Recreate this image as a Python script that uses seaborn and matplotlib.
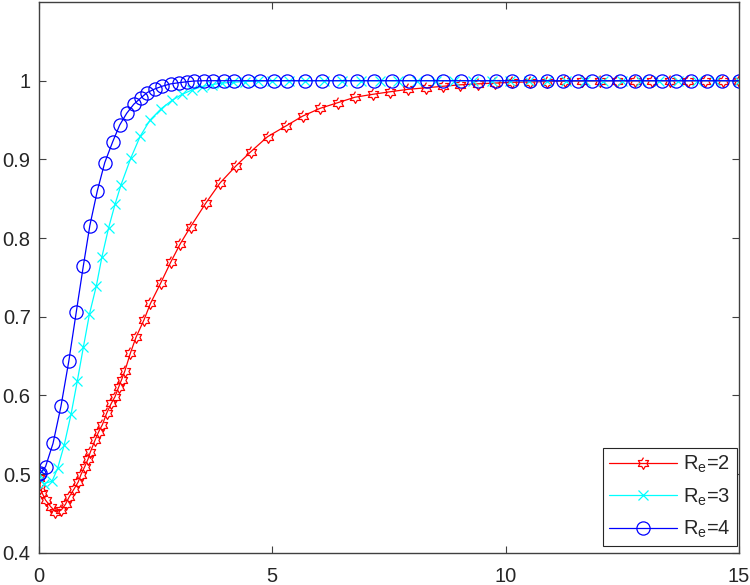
#!/usr/bin/env python3

import numpy as np
import seaborn as sns
import matplotlib
matplotlib.use("Agg")
import matplotlib.pyplot as plt
from matplotlib.ticker import FuncFormatter

# ---- data ----
t_re2 = [0, 0.03, 0.07, 0.14, 0.25, 0.35, 0.48, 0.57, 0.65, 0.75,
         0.84, 0.90, 0.98, 1.05, 1.10, 1.20, 1.28, 1.36, 1.45, 1.55,
         1.63, 1.71, 1.77, 1.84, 1.96, 2.08, 2.25, 2.39, 2.61, 2.82,
         3.03, 3.25, 3.57, 3.88, 4.22, 4.54, 4.90, 5.29, 5.65, 6.03,
         6.40, 6.77, 7.15, 7.53, 7.90, 8.29, 8.67, 9.03, 9.40, 9.77,
         10.15, 10.53, 10.90, 11.28, 11.65, 12.03, 12.40, 12.78, 13.15, 13.53,
         13.91, 14.28, 14.66, 15.0]
y_re2 = [0.495, 0.482, 0.4757, 0.467, 0.4587, 0.4524, 0.4545, 0.462, 0.4714, 0.481,
         0.490, 0.4995, 0.5095, 0.519, 0.528, 0.543, 0.554, 0.563, 0.5774, 0.590,
         0.5985, 0.611, 0.620, 0.631, 0.654, 0.674, 0.696, 0.717, 0.743, 0.769,
         0.793, 0.8145, 0.844, 0.870, 0.8916, 0.9098, 0.9289, 0.9424, 0.955, 0.965,
         0.972, 0.979, 0.9827, 0.986, 0.989, 0.991, 0.993, 0.9948, 0.996, 0.997,
         0.998, 0.9985, 0.999, 0.9993, 0.9995, 0.9997, 0.9998, 0.9998, 0.9999, 0.9999,
         1.0, 1.0, 1.0, 1.0]

t_re3 = [0, 0.10, 0.28, 0.40, 0.54, 0.69, 0.82, 0.95, 1.08, 1.23,
         1.35, 1.49, 1.63, 1.76, 1.97, 2.17, 2.38, 2.62, 2.85, 3.06,
         3.27, 3.49, 3.70, 3.92, 4.15, 4.41, 4.69, 5.0, 5.35, 5.7,
         6.1, 6.5, 6.9, 7.3, 7.7, 8.1, 8.5, 8.9, 9.3, 9.7,
         10.1, 10.5, 10.9, 11.3, 11.7, 12.1, 12.5, 12.9, 13.3, 13.7,
         14.1, 14.5, 15.0]
y_re3 = [0.500, 0.488, 0.491, 0.5075, 0.537, 0.577, 0.618, 0.661, 0.703, 0.7395,
         0.7765, 0.8125, 0.843, 0.868, 0.902, 0.9295, 0.950, 0.9645, 0.975, 0.9825,
         0.988, 0.9925, 0.995, 0.997, 0.998, 0.999, 0.9995, 1.0, 1.0, 1.0,
         1.0, 1.0, 1.0, 1.0, 1.0, 1.0, 1.0, 1.0, 1.0, 1.0,
         1.0, 1.0, 1.0, 1.0, 1.0, 1.0, 1.0, 1.0, 1.0, 1.0,
         1.0, 1.0, 1.0]

t_re4 = [0, 0.03, 0.14, 0.30, 0.47, 0.64, 0.80, 0.95, 1.09, 1.25,
         1.41, 1.58, 1.73, 1.88, 2.03, 2.18, 2.32, 2.48, 2.64, 2.82,
         3.00, 3.17, 3.32, 3.53, 3.74, 3.96, 4.18, 4.47, 4.74, 5.03,
         5.31, 5.70, 6.06, 6.43, 6.81, 7.18, 7.56, 7.94, 8.32, 8.67,
         9.05, 9.42, 9.80, 10.15, 10.53, 10.88, 11.23, 11.56, 11.86, 12.16,
         12.46, 12.78, 13.08, 13.36, 13.66, 13.98, 14.31, 14.64, 15.0]
y_re4 = [0.500, 0.5015, 0.5095, 0.539, 0.586, 0.644, 0.7065, 0.7645, 0.816, 0.860,
         0.896, 0.9225, 0.9437, 0.9586, 0.970, 0.978, 0.985, 0.9895, 0.993, 0.996,
         0.9975, 0.9987, 0.9996, 1.0, 1.0, 1.0, 1.0, 1.0, 1.0, 1.0,
         1.0, 1.0, 1.0, 1.0, 1.0, 1.0, 1.0, 1.0, 1.0, 1.0,
         1.0, 1.0, 1.0, 1.0, 1.0, 1.0, 1.0, 1.0, 1.0, 1.0,
         1.0, 1.0, 1.0, 1.0, 1.0, 1.0, 1.0, 1.0, 1.0]

labels = ["R$_\\mathregular{e}$=2", "R$_\\mathregular{e}$=3", "R$_\\mathregular{e}$=4"]
x_ticks = [0, 5, 10, 15]
y_ticks = [0.4, 0.5, 0.6, 0.7, 0.8, 0.9, 1.0]

# matlab-like hexagram marker
ang = np.deg2rad(90 + 30 * np.arange(12))
rad = np.where(np.arange(12) % 2 == 0, 1.0, 1 / np.sqrt(3))
hexagram = list(zip(rad * np.cos(ang), rad * np.sin(ang)))

sns.set_style("ticks")
plt.rcParams["font.family"] = ["Liberation Sans", "DejaVu Sans"]
plt.rcParams["mathtext.fontset"] = "custom"
plt.rcParams["mathtext.rm"] = "Liberation Sans"
plt.rcParams["mathtext.it"] = "Liberation Sans:italic"

fig = plt.figure(figsize=(7.5, 5.85), dpi=100)
ax = fig.add_axes([0.052, 0.055, 0.933, 0.9415])

series = [
    (t_re2, y_re2, "#ff0000", hexagram, 8.5),
    (t_re3, y_re3, "#00ffff", "x", 6.5),
    (t_re4, y_re4, "#0000ff", "o", 9.5),
]
for (t, y, c, m, ms), lab in zip(series, labels):
    sns.lineplot(x=t, y=y, ax=ax, color=c, linewidth=0.9, marker=m,
                 markersize=ms, markerfacecolor="none", markeredgecolor=c,
                 markeredgewidth=0.9, label=lab, estimator=None, sort=False)

ax.set_xlim(0, 15)
ax.set_ylim(0.4, 1.1)
ax.set_xticks(x_ticks)
ax.set_yticks(y_ticks)
ax.yaxis.set_major_formatter(FuncFormatter(lambda v, p: "%g" % round(v, 2)))
ax.set_xlabel("")
ax.set_ylabel("")

for s in ax.spines.values():
    s.set_visible(True)
    s.set_color("#404040")
    s.set_linewidth(1.0)
ax.tick_params(direction="in", length=5, width=0.8, color="#404040",
               labelsize=14.5, labelcolor="#262626",
               top=True, right=True)
ax.tick_params(axis="y", pad=6)
ax.tick_params(axis="x", pad=10)

leg = ax.legend(loc="lower right", bbox_to_anchor=(0.997, 0.012),
                fontsize=14.5, numpoints=1, handlelength=3.4,
                fancybox=False, framealpha=1, edgecolor="#262626",
                borderpad=0.3, labelspacing=0.55, handletextpad=0.3,
                borderaxespad=0)
leg.get_frame().set_linewidth(0.8)

fig.savefig("out.png", dpi=100)
